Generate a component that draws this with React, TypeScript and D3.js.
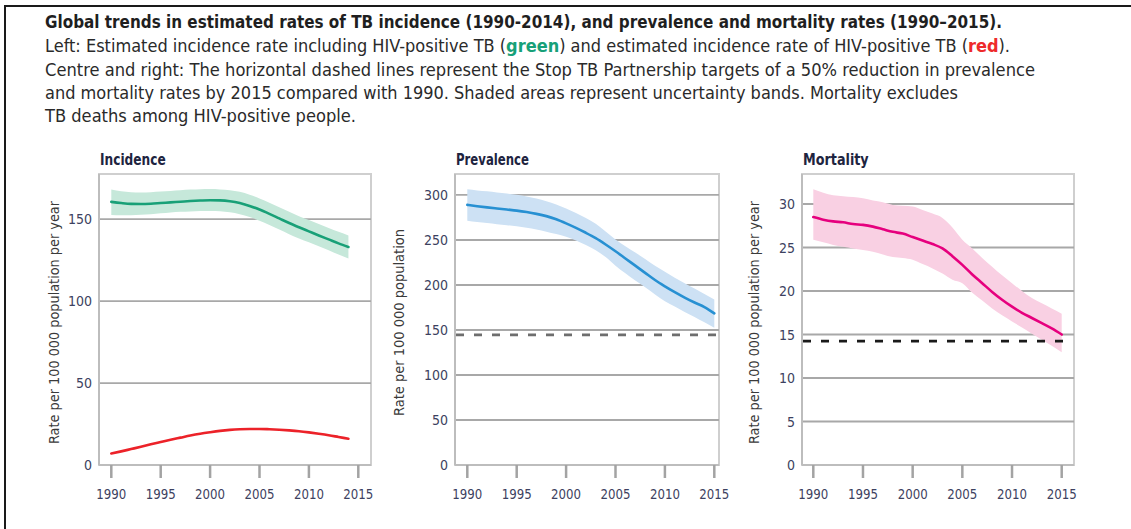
import React from "react";
import * as d3 from "d3";

// ---------- DATA ----------
const incYears = d3.range(1990, 2015); // 1990..2014
const incidenceTotal = [160.5, 159.8, 159.3, 159.2, 159.4, 159.8, 160.2, 160.6, 161.0, 161.3, 161.5, 161.4, 160.9, 159.8, 158.0, 155.8, 153.2, 150.4, 147.6, 145.0, 142.5, 140.0, 137.6, 135.2, 133.0];
const incidenceLow = [152.5, 152.3, 152.4, 152.6, 153.0, 153.5, 154.0, 154.4, 154.7, 154.9, 155.0, 154.8, 154.2, 153.0, 151.2, 149.0, 146.4, 143.6, 140.8, 138.2, 135.8, 133.4, 131.0, 128.4, 126.0];
const incidenceHigh = [168.0, 167.0, 166.4, 166.2, 166.4, 166.8, 167.2, 167.6, 168.0, 168.2, 168.3, 168.1, 167.6, 166.6, 164.8, 162.6, 160.0, 157.2, 154.4, 151.8, 149.4, 147.0, 144.6, 142.2, 140.0];
const incidenceHiv = [7.0, 8.3, 9.7, 11.1, 12.6, 14.0, 15.4, 16.7, 18.0, 19.1, 20.0, 20.8, 21.4, 21.8, 22.0, 22.0, 21.8, 21.5, 21.1, 20.6, 19.9, 19.1, 18.2, 17.1, 16.0];

const yearsFull = d3.range(1990, 2016); // 1990..2015
const prevalence = [289, 287.5, 286.2, 285, 283.8, 282.6, 281, 279, 276.5, 273, 268.5, 263.5, 258, 252, 245, 237.5, 229.5, 221.5, 213.5, 205.5, 198.5, 192, 186, 180.5, 175.5, 168.5];
const prevalenceLow = [271.5, 270, 268.8, 267.6, 266.4, 265.2, 263.6, 261.6, 259.2, 256.6, 253.7, 249.5, 244.5, 238.5, 231, 221.5, 213, 205, 197.5, 189.5, 182, 176, 170, 164.5, 158.5, 152.6];
const prevalenceHigh = [306.3, 305, 304, 302.8, 301.6, 300.2, 298.4, 296, 293, 289.5, 285, 280, 274.5, 268, 259.5, 250.5, 243, 236, 229, 221.5, 214.8, 208, 202, 196, 190, 184];
const prevalenceTarget = [144.5];

const mortality = [28.5, 28.2, 28.0, 27.9, 27.7, 27.6, 27.4, 27.1, 26.8, 26.6, 26.2, 25.8, 25.4, 24.9, 24.0, 23.0, 21.9, 20.9, 19.9, 19.0, 18.2, 17.5, 16.9, 16.3, 15.7, 15.0];
const mortalityLow = [25.9, 25.6, 25.3, 25.1, 24.9, 24.7, 24.5, 24.2, 23.9, 23.8, 23.6, 23.1, 22.6, 22.0, 21.3, 20.9, 19.8, 18.9, 18.0, 17.2, 16.5, 15.8, 15.1, 14.4, 13.7, 12.95];
const mortalityHigh = [31.7, 31.3, 31.0, 30.9, 30.8, 30.65, 30.4, 30.2, 29.9, 29.8, 29.7, 29.3, 28.9, 28.4, 27.3, 25.9, 24.9, 23.8, 22.8, 21.8, 20.9, 20.0, 19.2, 18.6, 18.0, 17.4];
const mortalityTarget = [14.25];

const xTicks = [1990, 1995, 2000, 2005, 2010, 2015];
const incTicks = [0, 50, 100, 150];
const prevTicks = [0, 50, 100, 150, 200, 250, 300];
const mortTicks = [0, 5, 10, 15, 20, 25, 30];

const panelTitles = ["Incidence", "Prevalence", "Mortality"];
const yLabels = [
  "Rate per 100 000 population per year",
  "Rate per 100 000 population",
  "Rate per 100 000 population per year",
];

// ---------- STYLE ----------
const FONT = "'Liberation Sans Narrow', 'DejaVu Sans Condensed', Roboto, 'Liberation Sans', sans-serif";
const TICK_COLOR = "#3d4160";
const GRID = "#a8a8a8";
const FRAME = "#cfcfcf";

type Band = { years: number[]; low: number[]; high: number[]; fill: string };
type Line = { years: number[]; values: number[]; color: string };

function Panel(props: {
  box: [number, number, number, number];
  xr: [number, number];
  yMax: number;
  ticks: number[];
  title: string;
  ylabel: string;
  ylabelX: number;
  ylabelLen: number;
  bands: Band[];
  lines: Line[];
  target?: { value: number; color: string };
}) {
  const [x0, y0, x1, y1] = props.box;
  const x = d3.scaleLinear().domain([1990, 2015]).range(props.xr);
  const y = d3.scaleLinear().domain([0, props.yMax]).range([y1, y0]);
  const area = (b: Band) =>
    d3
      .area<number>()
      .x((_, i) => x(b.years[i]))
      .y0((_, i) => y(b.low[i]))
      .y1((_, i) => y(b.high[i]))
      .curve(d3.curveMonotoneX)(b.years) || "";
  const line = (l: Line) =>
    d3
      .line<number>()
      .x((_, i) => x(l.years[i]))
      .y((_, i) => y(l.values[i]))
      .curve(d3.curveMonotoneX)(l.years) || "";
  const yMid = (y0 + y1) / 2 + 3;
  return (
    <g>
      <text x={x0 + 1} y={165} fontFamily={FONT} fontWeight={700} fontSize={15} fill="#1e2440" textLength={props.title.length * 7.3} lengthAdjust="spacingAndGlyphs">
        {props.title}
      </text>
      <rect x={x0} y={y0} width={x1 - x0} height={y1 - y0} fill="white" stroke={FRAME} strokeWidth={2} />
      {props.ticks.filter((t) => t > 0).map((t) => (
        <line key={t} x1={x0} x2={x1} y1={y(t)} y2={y(t)} stroke={GRID} strokeWidth={1.8} />
      ))}
      {props.bands.map((b, i) => (
        <path key={i} d={area(b)} fill={b.fill} stroke="none" />
      ))}
      {props.target && (
        <line x1={x0 + 1} x2={x1 - 2} y1={y(props.target.value)} y2={y(props.target.value)} stroke={props.target.color} strokeWidth={2.8} strokeDasharray="8 10" />
      )}
      {props.lines.map((l, i) => (
        <path key={i} d={line(l)} fill="none" stroke={l.color} strokeWidth={2.6} strokeLinecap="round" />
      ))}
      <line x1={x0} x2={x0} y1={y0} y2={y1} stroke="#bdbdbd" strokeWidth={2} />
      <line x1={x0} x2={x1} y1={y1} y2={y1} stroke="#bdbdbd" strokeWidth={2} />
      {props.ticks.map((t) => (
        <text key={t} x={x0 - 7} y={y(t) + 5} textAnchor="end" fontFamily={FONT} fontSize={14} fill={TICK_COLOR}>
          {t}
        </text>
      ))}
      {xTicks.map((t) => (
        <g key={t}>
          <line x1={x(t)} x2={x(t)} y1={y1} y2={y1 + 13} stroke="#a3a3a3" strokeWidth={2.5} />
          <text x={x(t)} y={498.5} textAnchor="middle" fontFamily={FONT} fontSize={14} fill={TICK_COLOR} textLength={30} lengthAdjust="spacingAndGlyphs">
            {t}
          </text>
        </g>
      ))}
      <text
        transform={`translate(${props.ylabelX},${yMid}) rotate(-90)`}
        textAnchor="middle"
        fontFamily={FONT}
        fontSize={13.5}
        fill="#3a3a3a"
        textLength={props.ylabelLen}
        lengthAdjust="spacingAndGlyphs"
      >
        {props.ylabel}
      </text>
    </g>
  );
}

export default function App() {
  const W = 1131;
  const H = 529;
  const txt = { fontFamily: FONT, fill: "#1f1f1f" } as const;
  return (
    <svg width={W} height={H} style={{ position: "absolute", left: 0, top: 0, background: "white" }}>
      <rect x={0} y={0} width={W} height={H} fill="white" />
      <line x1={4} x2={W} y1={6} y2={6} stroke="#1a1a1a" strokeWidth={2} />
      <line x1={5} x2={5} y1={5} y2={H} stroke="#1a1a1a" strokeWidth={2} />

      <text x={45} y={28} {...txt} fontSize={18} fontWeight={700} textLength={957} lengthAdjust="spacingAndGlyphs">
        Global trends in estimated rates of TB incidence (1990-2014), and prevalence and mortality rates (1990–2015).
      </text>
      <text x={45} y={52} {...txt} fontSize={18} fill="#2a2a2a" textLength={965} lengthAdjust="spacingAndGlyphs">
        Left: Estimated incidence rate including HIV-positive TB (
        <tspan fill="#17a078" fontWeight={700}>green</tspan>) and estimated incidence rate of HIV-positive TB (
        <tspan fill="#ee2a2a" fontWeight={700}>red</tspan>).
      </text>
      <text x={45} y={76} {...txt} fontSize={18} fill="#2a2a2a" textLength={990} lengthAdjust="spacingAndGlyphs">
        Centre and right: The horizontal dashed lines represent the Stop TB Partnership targets of a 50% reduction in prevalence
      </text>
      <text x={45} y={99} {...txt} fontSize={18} fill="#2a2a2a" textLength={913} lengthAdjust="spacingAndGlyphs">
        and mortality rates by 2015 compared with 1990. Shaded areas represent uncertainty bands. Mortality excludes
      </text>
      <text x={45} y={122} {...txt} fontSize={18} fill="#2a2a2a" textLength={311} lengthAdjust="spacingAndGlyphs">
        TB deaths among HIV-positive people.
      </text>

      <Panel
        box={[99, 174, 371, 465]}
        xr={[111.3, 358.3]}
        yMax={177.5}
        ticks={incTicks}
        title={panelTitles[0]}
        ylabel={yLabels[0]}
        ylabelX={59}
        ylabelLen={243}
        bands={[{ years: incYears, low: incidenceLow, high: incidenceHigh, fill: "#c6e8da" }]}
        lines={[
          { years: incYears, values: incidenceTotal, color: "#18a077" },
          { years: incYears, values: incidenceHiv, color: "#ec2229" },
        ]}
      />
      <Panel
        box={[455, 174, 719, 465]}
        xr={[467.3, 714.3]}
        yMax={323.3}
        ticks={prevTicks}
        title={panelTitles[1]}
        ylabel={yLabels[1]}
        ylabelX={404}
        ylabelLen={187}
        bands={[{ years: yearsFull, low: prevalenceLow, high: prevalenceHigh, fill: "#cde1f4" }]}
        lines={[{ years: yearsFull, values: prevalence, color: "#2790d2" }]}
        target={{ value: prevalenceTarget[0], color: "#6e6e6e" }}
      />
      <Panel
        box={[802, 174, 1074, 465]}
        xr={[813.3, 1061.7]}
        yMax={33.45}
        ticks={mortTicks}
        title={panelTitles[2]}
        ylabel={yLabels[2]}
        ylabelX={759}
        ylabelLen={243}
        bands={[{ years: yearsFull, low: mortalityLow, high: mortalityHigh, fill: "#f9d0e3" }]}
        lines={[{ years: yearsFull, values: mortality, color: "#e6007e" }]}
        target={{ value: mortalityTarget[0], color: "#1a1a1a" }}
      />
    </svg>
  );
}
